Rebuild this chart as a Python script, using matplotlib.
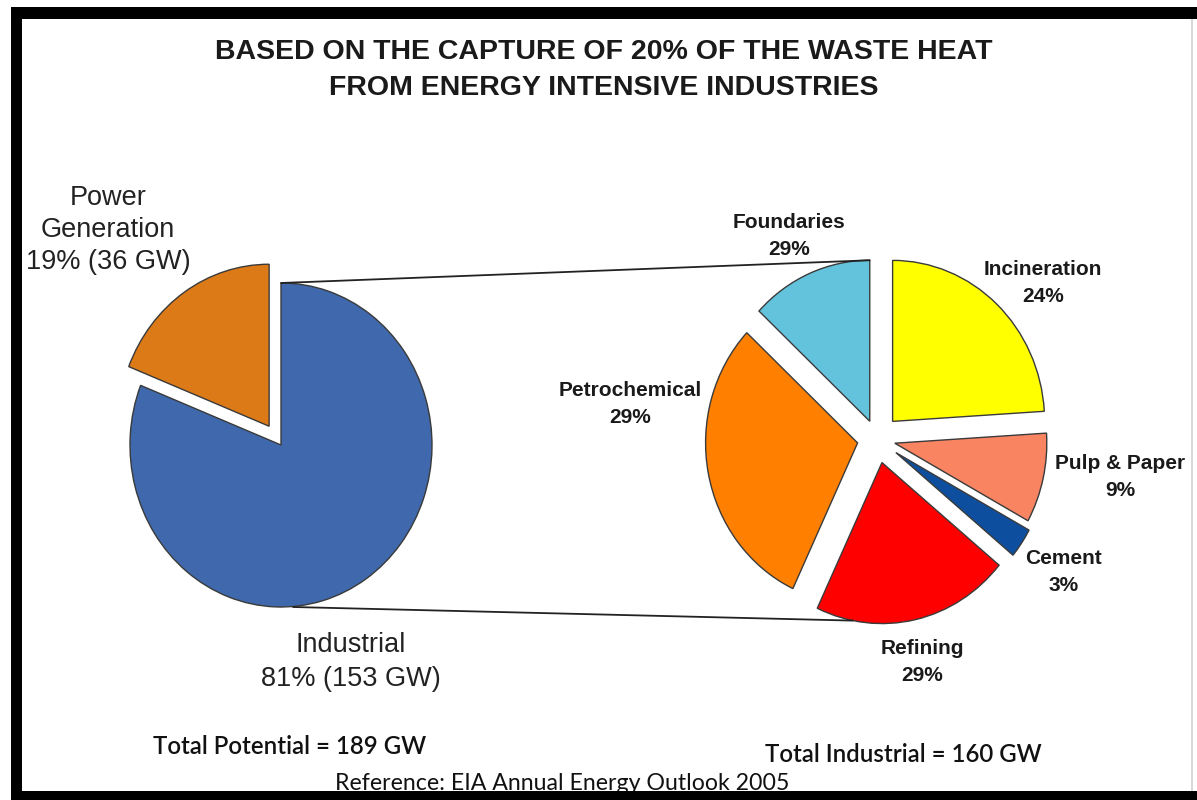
import matplotlib
matplotlib.use("Agg")
import matplotlib.pyplot as plt
from matplotlib.patches import ConnectionPatch, Rectangle
import numpy as np

# ---------------- data ----------------
title_lines = ["BASED ON THE CAPTURE OF 20% OF THE WASTE HEAT",
               "FROM ENERGY INTENSIVE INDUSTRIES"]

left_labels = ["Industrial", "Power Generation"]
left_values = [81, 19]
left_gw = [153, 36]
left_colors = ["#3f69ac", "#dc7a18"]
left_explode = [0.0, 0.14]

right_labels = ["Incineration", "Pulp & Paper", "Cement", "Refining",
                "Petrochemical", "Foundaries"]
right_values = [24, 9, 3, 21, 30, 13]          # slice sizes as drawn
right_shown_pct = [24, 9, 3, 29, 29, 29]       # percentages printed on the chart
right_colors = ["#ffff00", "#f98462", "#0d4f9e", "#ff0000", "#ff8000", "#63c3dc"]
right_explode = [0.15, 0.12, 0.15, 0.15, 0.13, 0.12]

total_potential = 189
total_industrial = 160
reference_text = "Reference: EIA Annual Energy Outlook 2005"

# ---------------- figure ----------------
W, H = 1197, 800
fig = plt.figure(figsize=(W / 100, H / 100), dpi=100)
fig.patch.set_facecolor("white")

def fx(px):
    return px / W

def fy(py):
    return 1 - py / H

def pie_axes(cx, cy, rx, ry, lim=1.45):
    ax = fig.add_axes([(cx - lim * rx) / W, (H - cy - lim * ry) / H,
                       2 * lim * rx / W, 2 * lim * ry / H])
    return ax, lim

def finish(ax, lim):
    ax.set_aspect("auto")
    ax.set_xlim(-lim, lim)
    ax.set_ylim(-lim, lim)
    ax.axis("off")

edge = dict(edgecolor="#3a3a3a", linewidth=1.0)

# left pie
axL, limL = pie_axes(281, 445, 151, 162)
axL.pie(left_values, colors=left_colors, explode=left_explode, startangle=90,
        counterclock=False, wedgeprops=edge, frame=True)
finish(axL, limL)

# right pie
axR, limR = pie_axes(877, 439, 152, 161)
wedgesR, _ = axR.pie(right_values, colors=right_colors, explode=right_explode,
                     startangle=90, counterclock=False, wedgeprops=edge, frame=True)
finish(axR, limR)

# connector lines (left pie top/bottom -> right pie exploded slices)
def wedge_point(values, explode, idx, ang_deg):
    total = float(sum(values))
    start = 90 - 360 * sum(values[:idx]) / total
    end = start - 360 * values[idx] / total
    mid = np.deg2rad((start + end) / 2)
    ox, oy = explode[idx] * np.cos(mid), explode[idx] * np.sin(mid)
    a = np.deg2rad(ang_deg)
    return (ox + np.cos(a), oy + np.sin(a))

top_pt = wedge_point(right_values, right_explode, 5, 90)
bot_pt = wedge_point(right_values, right_explode, 3, 259)
for pa, pb in [((0, 1), top_pt), ((0.08, -1), bot_pt)]:
    con = ConnectionPatch(xyA=pa, coordsA=axL.transData, xyB=pb, coordsB=axR.transData,
                          color="#222222", linewidth=1.3)
    fig.add_artist(con)

# ---------------- text ----------------
tfont = ["Liberation Sans", "DejaVu Sans"]
fig.text(fx(604), fy(52), title_lines[0], ha="center", va="center", fontsize=20.5,
         fontweight="bold", family=tfont, color="#1a1a1a")
fig.text(fx(604), fy(88), title_lines[1], ha="center", va="center", fontsize=20.5,
         fontweight="bold", family=tfont, color="#1a1a1a")

fig.text(fx(108), fy(230), f"Power\nGeneration\n{left_values[1]}% ({left_gw[1]} GW)",
         ha="center", va="center", fontsize=19.5, family=tfont, color="#222222",
         linespacing=1.32)
fig.text(fx(351), fy(662), f"{left_labels[0]}\n{left_values[0]}% ({left_gw[0]} GW)",
         ha="center", va="center", fontsize=19.5, family=tfont, color="#222222",
         linespacing=1.42)

rpos = {
    "Incineration": (1043, 283),
    "Pulp & Paper": (1120, 477),
    "Cement": (1064, 572),
    "Refining": (922, 662),
    "Petrochemical": (630, 404),
    "Foundaries": (789, 236),
}
for lab, pct in zip(right_labels, right_shown_pct):
    x, y = rpos[lab]
    fig.text(fx(x), fy(y), f"{lab}\n{pct}%", ha="center", va="center", fontsize=15,
             fontweight="bold", family=tfont, color="#1a1a1a", linespacing=1.55)

bfont = ["Lato", "DejaVu Sans"]
fig.text(fx(153), fy(746), f"Total Potential = {total_potential} GW", ha="left", va="center",
         fontsize=17.3, fontweight="semibold", family=bfont, color="#111111")
fig.text(fx(765), fy(754), f"Total Industrial = {total_industrial} GW", ha="left", va="center",
         fontsize=17.3, fontweight="semibold", family=bfont, color="#111111")
fig.text(fx(562), fy(784), reference_text, ha="center", va="center",
         fontsize=16.7, family=bfont, color="#111111")

# ---------------- frame ----------------
def band(x0, y0, x1, y1, color="black"):
    fig.add_artist(Rectangle((fx(x0), fy(y1)), (x1 - x0) / W, (y1 - y0) / H,
                             transform=fig.transFigure, facecolor=color,
                             edgecolor="none", zorder=10))

band(11, 7, W, 19)       # top
band(11, 7, 22, H)       # left
band(11, 791, W, H)      # bottom
band(1191, 19, 1193, 791, color="#d8d8d8")  # faint right edge

fig.savefig("out.png", dpi=100, facecolor="white")
